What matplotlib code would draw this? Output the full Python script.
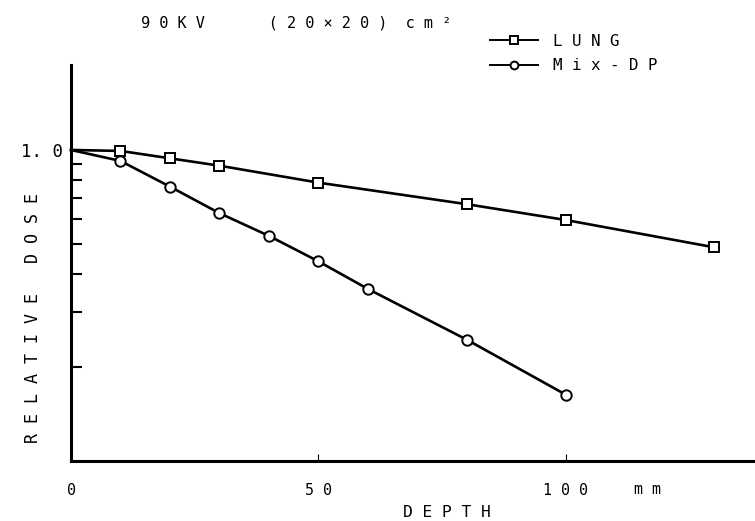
import matplotlib
matplotlib.use('Agg')
import matplotlib.pyplot as plt
from matplotlib.ticker import FixedLocator, NullLocator

# values (depth in mm, relative dose on a log axis)
lung_depth = [0, 10, 20, 30, 50, 80, 100, 130]
lung_dose = [1.0, 0.993, 0.940, 0.890, 0.785, 0.669, 0.595, 0.486]
mix_depth = [0, 10, 20, 30, 40, 50, 60, 80, 100]
mix_dose = [1.0, 0.922, 0.762, 0.626, 0.529, 0.438, 0.357, 0.245, 0.163]

dose_ticks = [0.2, 0.3, 0.4, 0.5, 0.6, 0.7, 0.8, 0.9, 1.0]
dose_labels = [''] * 8 + ['1. 0']
depth_ticks = [0, 50, 100]
depth_labels = ['0', '5 0', '1 0 0']

plt.rcParams['font.family'] = ['DejaVu Sans Mono', 'DejaVu Sans']

fig = plt.figure(figsize=(7.55, 5.21), dpi=100)
ax = fig.add_axes([71 / 755, (521 - 460.7) / 521, 684 / 755, (460.7 - 65) / 521])

ax.plot(lung_depth, lung_dose, color='black', lw=1.9, marker='s', ms=7,
        mfc='white', mec='black', mew=1.4, markevery=slice(1, None),
        clip_on=False, label='L U N G')
ax.plot(mix_depth, mix_dose, color='black', lw=1.9, marker='o', ms=7.5,
        mfc='white', mec='black', mew=1.4, markevery=slice(1, None),
        clip_on=False, label='M i x - D P')

ax.set_yscale('log')
ax.set_ylim(0.1, 1.877)
ax.set_xlim(0, 138.2)

for side in ['top', 'right']:
    ax.spines[side].set_visible(False)
for side in ['left', 'bottom']:
    ax.spines[side].set_linewidth(2.2)

ax.yaxis.set_major_locator(FixedLocator(dose_ticks))
ax.yaxis.set_minor_locator(NullLocator())
ax.set_yticklabels(dose_labels)
ax.tick_params(axis='y', direction='in', length=8, width=1.5, pad=6, labelsize=12.5)

ax.set_xticks(depth_ticks, depth_labels)
ax.tick_params(axis='x', direction='in', length=5, width=0.8, pad=16, labelsize=10.8)

ax.text(116.5, -0.074, 'm m', transform=ax.get_xaxis_transform(),
        ha='center', va='center', fontsize=10.8)

ax.set_xlabel('D E P T H', fontsize=11.7)
ax.xaxis.set_label_coords(0.55, -0.113)
ax.set_ylabel('R E L A T I V E   D O S E', fontsize=12)
ax.yaxis.set_label_coords(-0.042, 0.36)

fig.text(141 / 755, 1 - 23 / 521, '9 0 K V       ( 2 0 \u00d7 2 0 )  c m \u00b2',
         ha='left', va='center', fontsize=11)

leg = ax.legend(loc='upper left', bbox_to_anchor=(490 / 755, 1 - 34 / 521),
                bbox_transform=fig.transFigure, frameon=False, handlelength=3.0,
                handletextpad=1.0, labelspacing=0.6, borderpad=0, borderaxespad=0,
                fontsize=11.4, markerscale=0.75)
for line in leg.get_lines():
    line.set_linewidth(1.4)

fig.savefig('out.png', dpi=100)
